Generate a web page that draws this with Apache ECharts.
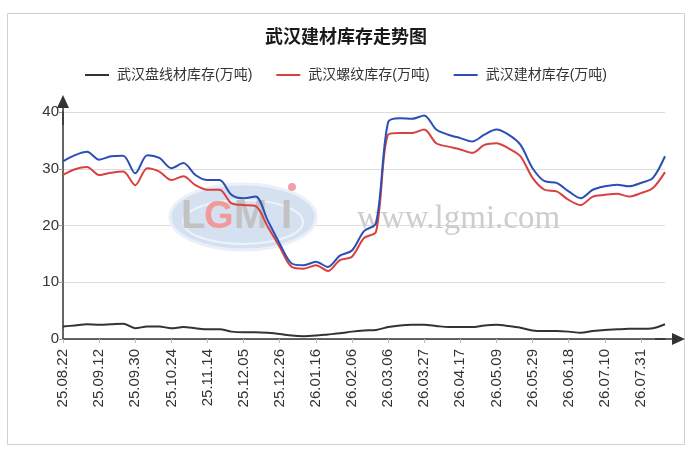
<!DOCTYPE html>
<html>
<head>
<meta charset="utf-8">
<script src="https://cdn.jsdelivr.net/npm/echarts@6/dist/echarts.min.js"></script>
<style>
html,body{margin:0;padding:0;background:#fff;}
#main{width:692px;height:456px;}
</style>
</head>
<body>
<div id="main"></div>
<script>
const categories = ['25.08.22','25.08.29','25.09.05','25.09.12','25.09.19','25.09.25','25.09.30','25.10.10','25.10.17','25.10.24','25.10.31','25.11.07','25.11.14','25.11.21','25.11.28','25.12.05','25.12.12','25.12.19','25.12.26','26.01.02','26.01.09','26.01.16','26.01.23','26.01.30','26.02.06','26.02.13','26.02.27','26.03.06','26.03.13','26.03.20','26.03.27','26.04.03','26.04.10','26.04.17','26.04.24','26.04.30','26.05.09','26.05.15','26.05.22','26.05.29','26.06.05','26.06.12','26.06.18','26.06.26','26.07.03','26.07.10','26.07.17','26.07.24','26.07.31','26.08.07','26.08.14'];

const wireRod = [2.2,2.4,2.6,2.5,2.6,2.7,1.9,2.2,2.2,1.9,2.1,1.9,1.7,1.7,1.3,1.2,1.2,1.1,0.9,0.6,0.5,0.6,0.8,1.0,1.3,1.5,1.6,2.1,2.4,2.5,2.5,2.3,2.1,2.1,2.1,2.4,2.5,2.3,2.0,1.5,1.4,1.4,1.3,1.1,1.4,1.6,1.7,1.8,1.8,1.9,2.6];

const rebar = [28.9,29.9,30.3,28.9,29.3,29.5,27.1,30.1,29.5,28.0,28.7,27.1,26.3,26.3,23.9,23.6,23.4,19.8,16.2,12.7,12.4,13.0,12.0,13.9,14.5,17.8,18.9,36.0,36.3,36.3,36.9,34.5,33.9,33.4,32.8,34.2,34.5,33.6,32.2,28.4,26.3,26.0,24.5,23.6,25.1,25.4,25.6,25.1,25.7,26.6,29.4];

const total = [31.3,32.4,33.0,31.6,32.2,32.3,29.2,32.4,31.9,30.1,31.0,28.9,28.0,28.0,25.4,24.8,25.1,20.9,16.8,13.3,13.0,13.6,12.7,14.7,15.6,19.0,20.4,38.2,38.9,38.8,39.4,36.9,36.0,35.4,34.8,36.0,36.9,36.0,34.2,30.1,27.8,27.5,26.0,24.8,26.3,26.9,27.2,26.9,27.5,28.4,32.2];

const seriesNames = ['武汉盘线材库存(万吨)','武汉螺纹库存(万吨)','武汉建材库存(万吨)'];
const yTicks = {min: 0, max: 40, interval: 10};

const arrowPath = 'path://M6,0 L12,13 L6.75,13 L6.75,30 L5.25,30 L5.25,13 L0,13 Z';
const cjk = '"Liberation Sans","Noto Sans CJK SC",sans-serif';

const chart = echarts.init(document.getElementById('main'), null, {renderer: 'canvas'});
chart.setOption({
  backgroundColor: '#fff',
  animation: false,
  title: {
    text: '武汉建材库存走势图',
    left: 'center',
    top: 22,
    textStyle: {fontSize: 18, fontWeight: 'bold', color: '#1a1a1a', fontFamily: '"Noto Sans CJK SC",sans-serif'}
  },
  legend: {
    top: 63,
    left: 'center',
    icon: 'rect',
    itemWidth: 24,
    itemHeight: 2,
    itemGap: 24,
    textStyle: {fontSize: 14, color: '#333', fontFamily: cjk, padding: [0, 0, 0, 3]},
    data: seriesNames
  },
  graphic: [
    {type: 'rect', shape: {x: 7.5, y: 13.5, width: 677, height: 431}, style: {fill: 'none', stroke: '#d0d0d0', lineWidth: 1}, z: 0, silent: true},
    {type: 'ellipse', shape: {cx: 243, cy: 217, rx: 73, ry: 33}, style: {fill: '#d5e1f1', stroke: '#eaf0f8', lineWidth: 3}, z: 1, silent: true},
    {type: 'ellipse', shape: {cx: 243, cy: 222, rx: 60, ry: 22}, style: {fill: 'none', stroke: '#eef3fa', lineWidth: 2}, z: 1, silent: true},
    {type: 'text', x: 181, y: 197, style: {text: 'L', font: 'bold 40px "Liberation Sans"', fill: '#c2c2c2'}, z: 1, silent: true},
    {type: 'text', x: 204, y: 199, style: {text: 'G', font: 'bold 38px "Liberation Sans"', fill: '#f29a9a'}, z: 1, silent: true},
    {type: 'text', x: 234, y: 197, style: {text: 'M', font: 'bold 40px "Liberation Sans"', fill: '#c2c2c2'}, z: 1, silent: true},
    {type: 'text', x: 281, y: 197, style: {text: 'I', font: 'bold 40px "Liberation Sans"', fill: '#c2c2c2'}, z: 1, silent: true},
    {type: 'circle', shape: {cx: 292, cy: 187, r: 4}, style: {fill: '#f3a0a8'}, z: 1, silent: true},
    {type: 'text', x: 357, y: 203, style: {text: 'www.lgmi.com', font: '33px "Liberation Serif","DejaVu Serif",serif', fill: '#cdcdcd'}, z: 1, silent: true}
  ],
  grid: {left: 63, right: 27, top: 112, bottom: 117, containLabel: false},
  xAxis: {
    type: 'category',
    boundaryGap: false,
    data: categories,
    axisLine: {
      lineStyle: {color: '#333', width: 1.5},
      symbol: ['none', arrowPath],
      symbolSize: [12, 30],
      symbolOffset: [0, 5]
    },
    axisTick: {show: true, interval: 2, length: 4, lineStyle: {color: '#bbb'}},
    axisLabel: {interval: 2, rotate: 90, fontSize: 15, color: '#333', margin: 10, fontFamily: '"Liberation Sans",sans-serif'},
    splitLine: {show: false}
  },
  yAxis: {
    type: 'value',
    min: yTicks.min,
    max: yTicks.max,
    interval: yTicks.interval,
    axisLine: {
      show: true,
      lineStyle: {color: '#333', width: 1.5},
      symbol: ['none', arrowPath],
      symbolSize: [12, 30],
      symbolOffset: [0, 2]
    },
    axisTick: {show: true, length: 4, lineStyle: {color: '#999'}},
    axisLabel: {fontSize: 15, color: '#333', margin: 4, fontFamily: '"Liberation Sans",sans-serif'},
    splitLine: {show: true, lineStyle: {color: '#dcdcdc', width: 1}}
  },
  series: [
    {name: seriesNames[0], type: 'line', data: wireRod, smooth: 0.3, showSymbol: false, z: 3,
     lineStyle: {color: '#333', width: 2}, itemStyle: {color: '#333'}},
    {name: seriesNames[1], type: 'line', data: rebar, smooth: 0.3, showSymbol: false, z: 3,
     lineStyle: {color: '#d94040', width: 2}, itemStyle: {color: '#d94040'}},
    {name: seriesNames[2], type: 'line', data: total, smooth: 0.3, showSymbol: false, z: 3,
     lineStyle: {color: '#2b4fb5', width: 2}, itemStyle: {color: '#2b4fb5'}}
  ]
});
</script>
</body>
</html>
